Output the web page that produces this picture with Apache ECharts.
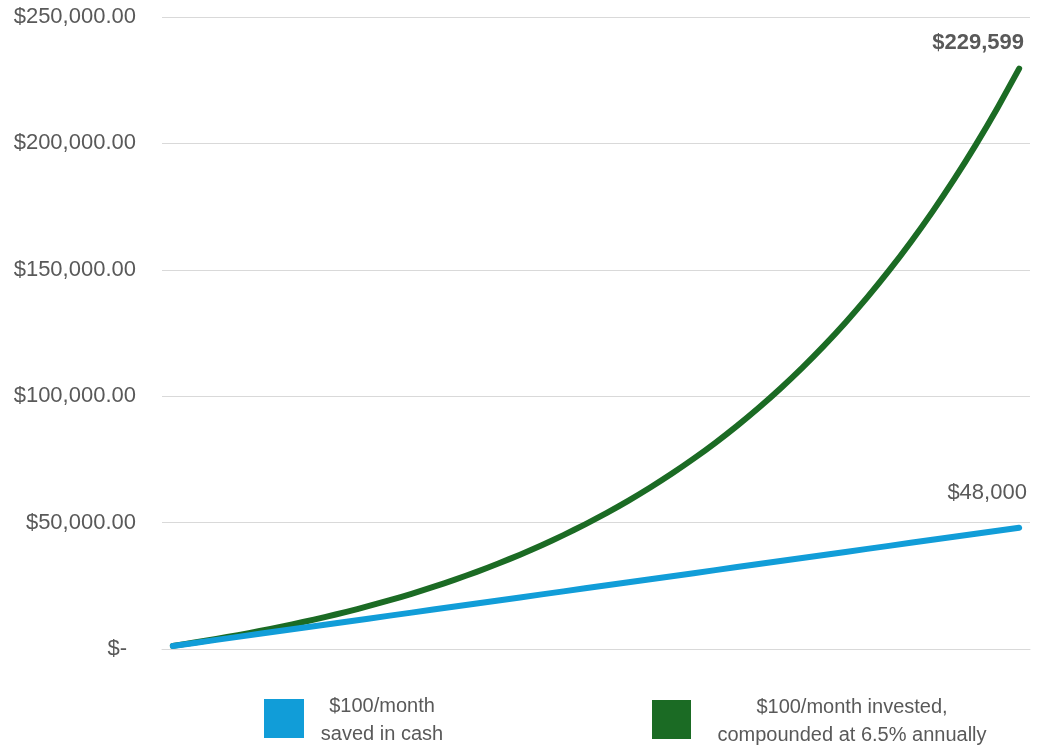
<!DOCTYPE html>
<html>
<head>
<meta charset="utf-8">
<script src="https://cdn.jsdelivr.net/npm/echarts@6/dist/echarts.min.js"></script>
<style>
html,body{margin:0;padding:0;background:#fff;}
#chart{width:1041px;height:748px;}
</style>
</head>
<body>
<div id="chart"></div>
<script>
const years = [1,2,3,4,5,6,7,8,9,10,11,12,13,14,15,16,17,18,19,20,21,22,23,24,25,26,27,28,29,30,31,32,33,34,35,36,37,38,39,40];
const cashValues = [1200,2400,3600,4800,6000,7200,8400,9600,10800,12000,13200,14400,15600,16800,18000,19200,20400,21600,22800,24000,25200,26400,27600,28800,30000,31200,32400,33600,34800,36000,37200,38400,39600,40800,42000,43200,44400,45600,46800,48000];
const investedValues = [1243,2569,3985,5495,7106,8825,10659,12616,14704,16932,19309,21845,24551,27438,30519,33806,37313,41055,45048,49308,53854,58703,63878,69399,75290,81576,88282,95438,103073,111219,119911,129184,139080,149637,160902,172921,185744,199427,214027,229599];
const yTicks = [0,50000,100000,150000,200000,250000];
const cashLabel = '$100/month\nsaved in cash';
const investedLabel = '$100/month invested,\ncompounded at 6.5% annually';
const cashEndLabel = '$48,000';
const investedEndLabel = '$229,599';

const BLUE = '#119DD8';
const GREEN = '#1B6B24';
const TEXT = '#595959';
const FONT = '"Liberation Sans", Arial, sans-serif';

function fmtAxis(v){
  if (v === 0) return '{z|$-}';
  return '$' + v.toLocaleString('en-US',{minimumFractionDigits:2,maximumFractionDigits:2});
}

function withEndLabel(arr, text, style){
  return arr.map((v,i)=> i===arr.length-1
    ? {value:v, symbol:'circle', symbolSize:1, label:Object.assign({show:true, formatter:text, position:'top'}, style)}
    : v);
}

const chart = echarts.init(document.getElementById('chart'), null, {renderer:'canvas'});
chart.setOption({
  animation:false,
  backgroundColor:'#fff',
  grid:{left:162, right:11, top:17, bottom:99, containLabel:false},
  xAxis:{
    type:'category',
    data:years,
    boundaryGap:true,
    axisLine:{show:true, lineStyle:{color:'#d9d9d9', width:1}},
    axisTick:{show:false},
    axisLabel:{show:false},
    splitLine:{show:false}
  },
  yAxis:{
    type:'value',
    min:yTicks[0],
    max:yTicks[yTicks.length-1],
    interval:50000,
    axisLine:{show:false},
    axisTick:{show:false},
    splitLine:{show:true, lineStyle:{color:'#d9d9d9', width:1}},
    axisLabel:{
      formatter:fmtAxis,
      color:TEXT,
      fontFamily:FONT,
      fontSize:22,
      margin:26,
      rich:{z:{color:TEXT, fontFamily:FONT, fontSize:22, padding:[0,9,0,0]}}
    }
  },
  series:[
    {
      name:'invested',
      type:'line',
      data:withEndLabel(investedValues, investedEndLabel, {color:TEXT, fontFamily:FONT, fontSize:22, fontWeight:'bold', offset:[-41,-9]}),
      symbol:'none',
      showSymbol:true,
      smooth:0.2,
      lineStyle:{color:GREEN, width:6, cap:'round', join:'round'},
      itemStyle:{color:GREEN},
      z:2
    },
    {
      name:'cash',
      type:'line',
      data:withEndLabel(cashValues, cashEndLabel, {color:TEXT, fontFamily:FONT, fontSize:22, offset:[-32,-18]}),
      symbol:'none',
      showSymbol:true,
      lineStyle:{color:BLUE, width:6, cap:'round', join:'round'},
      itemStyle:{color:BLUE},
      z:3
    }
  ],
  graphic:[
    {type:'rect', left:264, top:699, shape:{width:40, height:39}, style:{fill:BLUE}},
    {type:'text', x:382, y:720, style:{text:cashLabel, fill:TEXT, font:'20px '+FONT, textAlign:'center', textVerticalAlign:'middle', lineHeight:28}},
    {type:'rect', left:652, top:700, shape:{width:39, height:39}, style:{fill:GREEN}},
    {type:'text', x:852, y:721, style:{text:investedLabel, fill:TEXT, font:'20px '+FONT, textAlign:'center', textVerticalAlign:'middle', lineHeight:28}}
  ]
});
</script>
</body>
</html>
